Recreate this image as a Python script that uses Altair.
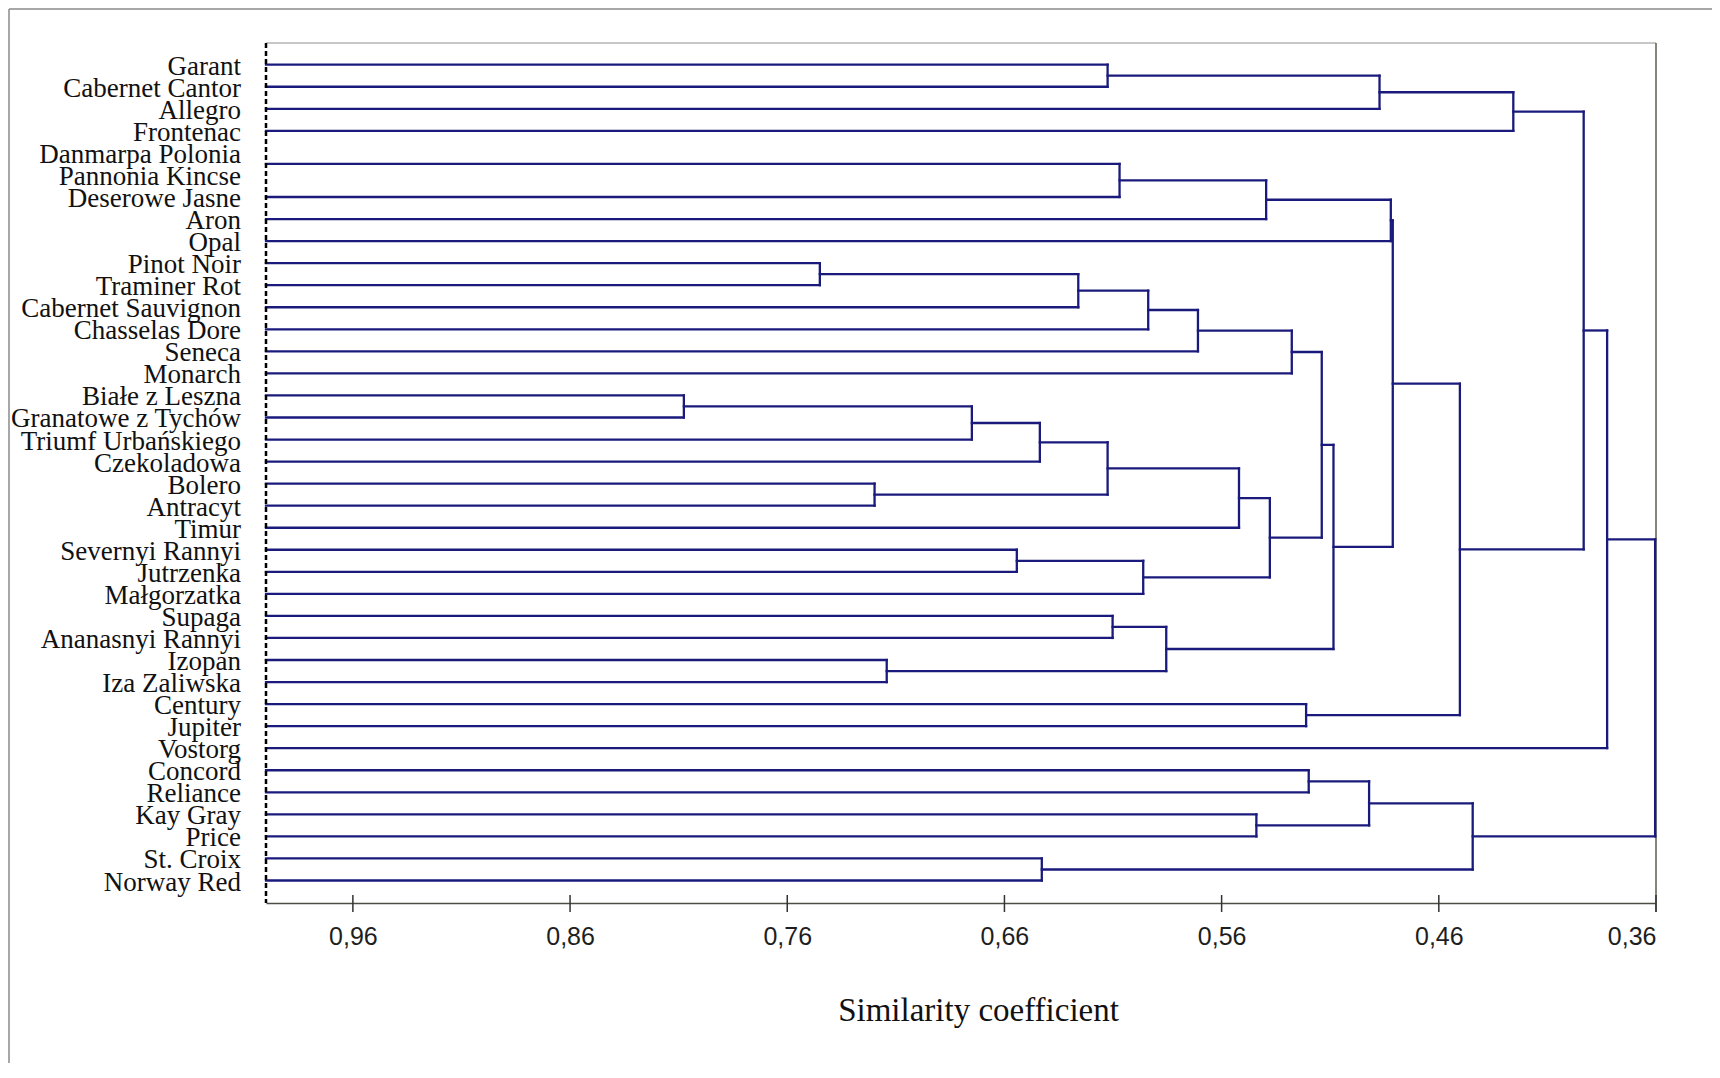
import altair as alt
import pandas as pd

# ---------------- data ----------------
labels = [
    "Garant", "Cabernet Cantor", "Allegro", "Frontenac", "Danmarpa Polonia",
    "Pannonia Kincse", "Deserowe Jasne", "Aron", "Opal", "Pinot Noir",
    "Traminer Rot", "Cabernet Sauvignon", "Chasselas Dore", "Seneca", "Monarch",
    "Białe z Leszna", "Granatowe z Tychów", "Triumf Urbańskiego", "Czekoladowa",
    "Bolero", "Antracyt", "Timur", "Severnyi Rannyi", "Jutrzenka", "Małgorzatka",
    "Supaga", "Ananasnyi Rannyi", "Izopan", "Iza Zaliwska", "Century", "Jupiter",
    "Vostorg", "Concord", "Reliance", "Kay Gray", "Price", "St. Croix", "Norway Red",
]

# merges: (child A, child B, similarity at which they join); "m<k>" = k-th merge
merge_a = ["Garant", "m1", "m2", "Danmarpa Polonia", "m4", "m5", "m6",
           "Pinot Noir", "m8", "m9", "m10", "m11",
           "Białe z Leszna", "m13", "m14", "Bolero", "m15", "m17",
           "Severnyi Rannyi", "m19", "m18", "m12",
           "Supaga", "Izopan", "m23", "m22", "m7",
           "Century", "m27", "m3", "m30",
           "Concord", "Kay Gray", "m32", "St. Croix", "m34", "m31"]
merge_b = ["Cabernet Cantor", "Allegro", "Frontenac", "Pannonia Kincse", "Deserowe Jasne", "Aron", "Opal",
           "Traminer Rot", "Cabernet Sauvignon", "Chasselas Dore", "Seneca", "Monarch",
           "Granatowe z Tychów", "Triumf Urbańskiego", "Czekoladowa", "Antracyt", "m16", "Timur",
           "Jutrzenka", "Małgorzatka", "m20", "m21",
           "Ananasnyi Rannyi", "Iza Zaliwska", "m24", "m25", "m26",
           "Jupiter", "m28", "m29", "Vostorg",
           "Reliance", "Price", "m33", "Norway Red", "m35", "m36"]
merge_h = [0.6125, 0.4873, 0.4257, 1.0, 0.6070, 0.5395, 0.4821,
           0.745, 0.626, 0.5938, 0.5709, 0.5277,
           0.8076, 0.675, 0.6437, 0.7198, 0.6125, 0.552,
           0.6543, 0.5961, 0.5378, 0.5139,
           0.6102, 0.7142, 0.5855, 0.5085, 0.4812,
           0.5211, 0.4503, 0.3933, 0.3825,
           0.5199, 0.544, 0.4921, 0.6428, 0.4444, 0.3604]

tick_values = [0.96, 0.86, 0.76, 0.66, 0.56, 0.46, 0.36]

# ---------------- build dendrogram segments ----------------
pos = {name: (1.0, float(i)) for i, name in enumerate(labels)}
segs = []
for k, (a, b, h) in enumerate(zip(merge_a, merge_b, merge_h), start=1):
    ha, ya = pos[a]
    hb, yb = pos[b]
    if h < 1.0:
        segs.append({"x": h, "x2": h, "y": ya, "y2": yb})
    for hc, yc in ((ha, ya), (hb, yb)):
        if hc != h:
            segs.append({"x": hc, "x2": h, "y": yc, "y2": yc})
    pos[f"m{k}"] = (h, (ya + yb) / 2)

seg_df = pd.DataFrame(segs)
lab_df = pd.DataFrame({"label": labels, "row": list(range(len(labels)))})
tick_df = pd.DataFrame({"x": tick_values})
one = pd.DataFrame({"a": [0]})

W, H = 1390, 860
LINE = "#1a1a7c"

xscale = alt.Scale(domain=[0.36, 1.0], reverse=True, nice=False, zero=False)
yscale = alt.Scale(domain=[-0.984, 38.02], reverse=True, nice=False, zero=False)
xaxis = alt.Axis(
    values=tick_values,
    labelExpr="replace(format(datum.value, '.2f'), '.', ',')",
    grid=False, ticks=False, tickSize=0,
    domainColor="#4d4d44", domainWidth=1.5,
    labelFont="Liberation Sans", labelFontSize=25, labelColor="#1e1e1e",
    labelPadding=21,
    title="Similarity coefficient",
    titleFont="Liberation Serif", titleFontSize=33, titleFontWeight="normal",
    titleColor="#111111", titleX=712, titleY=117, titleBaseline="alphabetic",
    titleAlign="center",
)

segments = alt.Chart(seg_df).mark_rule(color=LINE, strokeWidth=2.3, strokeCap="square").encode(
    x=alt.X("x:Q", scale=xscale, axis=xaxis),
    x2="x2:Q",
    y=alt.Y("y:Q", scale=yscale, axis=None),
    y2="y2:Q",
)

ticks = alt.Chart(tick_df).mark_rule(color="#333333", strokeWidth=1.5).encode(
    x=alt.X("x:Q", scale=xscale, axis=xaxis),
    y=alt.value(852), y2=alt.value(869),
)

leaf_labels = alt.Chart(lab_df).mark_text(
    align="right", baseline="middle", font="Liberation Serif", fontSize=27,
    color="#111111", dy=2
).encode(
    y=alt.Y("row:Q", scale=yscale, axis=None),
    x=alt.value(-25),
    text="label:N",
)

left_dash = alt.Chart(one).mark_rule(color="#000000", strokeWidth=2.5, strokeDash=[5, 3]).encode(
    x=alt.value(0), y=alt.value(0), y2=alt.value(H)
)
top_border = alt.Chart(one).mark_rule(color="#b4b4b4", strokeWidth=1.5).encode(
    x=alt.value(0), x2=alt.value(W), y=alt.value(0)
)
right_border = alt.Chart(one).mark_rule(color="#5c5c50", strokeWidth=1.5).encode(
    x=alt.value(W), y=alt.value(0), y2=alt.value(869)
)
frame_top = alt.Chart(one).mark_rule(color="#8a8a8a", strokeWidth=1.5).encode(
    x=alt.value(-257), x2=alt.value(1446), y=alt.value(-34)
)
frame_left = alt.Chart(one).mark_rule(color="#8a8a8a", strokeWidth=1.5).encode(
    x=alt.value(-257), y=alt.value(-34), y2=alt.value(1030)
)

chart = alt.layer(
    frame_top, frame_left, top_border, right_border, segments, ticks, left_dash, leaf_labels
).properties(
    width=W, height=H,
    padding={"left": 258, "top": 35, "right": 56, "bottom": 160},
    autosize=alt.AutoSizeParams(type="none"),
    background="white",
).configure_view(stroke=None)

chart.save("out.html", embed_options={"renderer": "svg", "actions": False})
